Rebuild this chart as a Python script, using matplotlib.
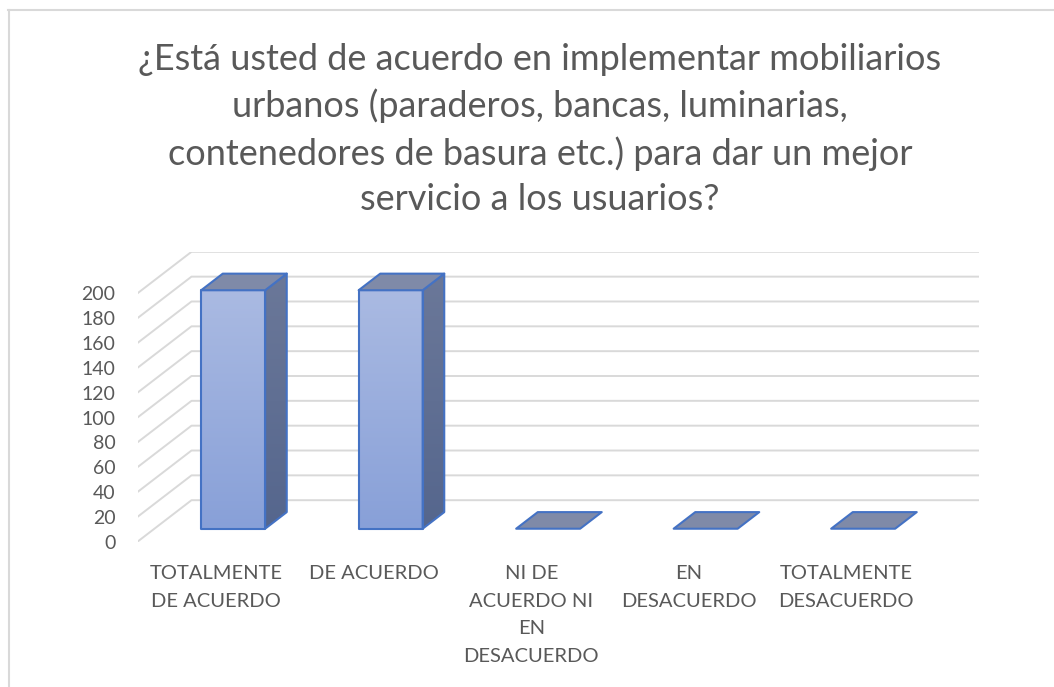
import numpy as np
import matplotlib.pyplot as plt
from matplotlib.patches import Polygon
from matplotlib.colors import LinearSegmentedColormap
from matplotlib.lines import Line2D

plt.rcParams['font.family'] = ['Lato', 'DejaVu Sans']

# datos
categorias = ['TOTALMENTE\nDE ACUERDO', 'DE ACUERDO', 'NI DE\nACUERDO NI\nEN\nDESACUERDO',
              'EN\nDESACUERDO', 'TOTALMENTE\nDESACUERDO']
valores = [192, 192, 0, 0, 0]
yticks = list(range(0, 201, 20))
titulo = ('¿Está usted de acuerdo en implementar mobiliarios\n'
          'urbanos (paraderos, bancas, luminarias,\n'
          'contenedores de basura etc.) para dar un mejor\n'
          'servicio a los usuarios?')

W, H = 1054, 687
fig = plt.figure(figsize=(W / 100, H / 100), dpi=100)

# border of the chart area
fig.add_artist(Line2D([8.5 / W, 8.5 / W], [0, 1 - 9.5 / H], color='#d9d9d9', lw=1.5))
fig.add_artist(Line2D([8 / W, 1], [1 - 9.5 / H, 1 - 9.5 / H], color='#d9d9d9', lw=1.5))

# 3d look: pixel sizes measured on the reference
px_cat = 157.5          # px per category
px_val = 1.242          # px per value unit
dpx, dpy = 54, 41.5     # floor depth in px
x0_px, y0_px = 137.5, 541.7
ymax = 200
DX = dpx / px_cat
DY = dpy / px_val

ax = fig.add_axes([x0_px / W, 1 - y0_px / H,
                   (5 * px_cat + dpx) / W, (ymax * px_val + dpy) / H])
ax.set_facecolor('none')


def grad_fill(verts, c_top, c_bot, z):
    poly = Polygon(verts, closed=True, facecolor='none', edgecolor='none')
    ax.add_patch(poly)
    xs = [p[0] for p in verts]
    ys = [p[1] for p in verts]
    cmap = LinearSegmentedColormap.from_list('g', [c_bot, c_top])
    g = np.linspace(0, 1, 256)[:, None]
    im = ax.imshow(g, extent=(min(xs), max(xs), min(ys), max(ys)), origin='lower',
                   cmap=cmap, aspect='auto', zorder=z, interpolation='bilinear')
    im.set_clip_path(poly)


# walls gridlines
for v in yticks:
    ax.plot([-0.5, -0.5 + DX, 4.5 + DX], [v, v + DY, v + DY], color='#d9d9d9',
            lw=1.4, zorder=1, solid_capstyle='butt')

# bars
bw = 64 / px_cat
f0 = 0.313   # depth position of front face
fd = 0.40    # bar depth
edge = '#4472c4'
for i, v in enumerate(valores):
    xl = i - bw / 2 + f0 * DX
    xr = xl + bw
    yb = f0 * DY
    yt = yb + v
    ox, oy = fd * DX, fd * DY
    front = [(xl, yb), (xr, yb), (xr, yt), (xl, yt)]
    side = [(xr, yb), (xr + ox, yb + oy), (xr + ox, yt + oy), (xr, yt)]
    top = [(xl, yt), (xr, yt), (xr + ox, yt + oy), (xl + ox, yt + oy)]
    if v > 0:
        grad_fill(front, '#aabae2', '#88a0d8', 3)
        grad_fill(side, '#6b7899', '#55668d', 3)
        for pts in (front, side):
            ax.add_patch(Polygon(pts, closed=True, facecolor='none', edgecolor=edge,
                                 lw=1.5, zorder=4, joinstyle='round'))
    ax.add_patch(Polygon(top, closed=True, facecolor='#7f8aa8', edgecolor=edge,
                         lw=1.5, zorder=4, joinstyle='round'))

ax.set_xlim(-0.5, 4.5 + DX)
ax.set_ylim(0, ymax + DY)
ax.set_yticks(yticks)
ax.set_yticklabels([str(t) for t in yticks], fontsize=14, color='#595959')
ax.set_xticks(range(len(categorias)))
ax.set_xticklabels(categorias, fontsize=14.5, color='#595959', linespacing=1.75)
ax.tick_params(axis='y', length=0, pad=16)
ax.tick_params(axis='x', length=0, pad=17)
for s in ax.spines.values():
    s.set_visible(False)

fig.text(540 / W, 1 - 129.5 / H, titulo, ha='center', va='center', fontsize=26,
         color='#595959', linespacing=1.45)

fig.savefig('out.png', dpi=100)
